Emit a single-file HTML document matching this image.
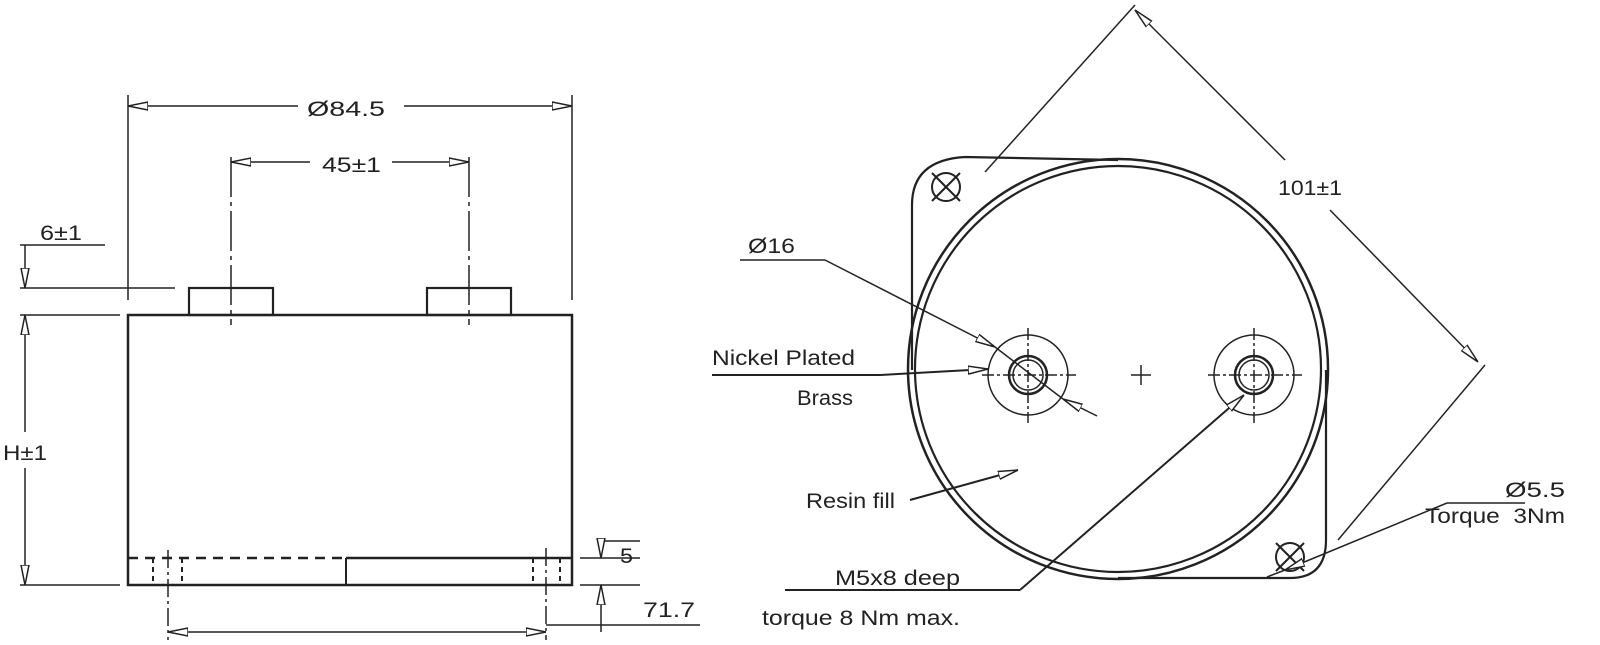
<!DOCTYPE html>
<html><head><style>
html,body{margin:0;padding:0;background:#fff;width:1600px;height:645px;overflow:hidden}
text{font-family:"Liberation Sans",sans-serif;font-size:21px;fill:#222}
</style></head><body>
<svg width="1600" height="645" viewBox="0 0 1600 645" xmlns="http://www.w3.org/2000/svg">
<defs>
<marker id="a" viewBox="0 0 20 10" refX="20" refY="5" markerWidth="20" markerHeight="10" markerUnits="userSpaceOnUse" orient="auto-start-reverse">
<path d="M0,1 L20,5 L0,9 Z" fill="#fff" stroke="#222" stroke-width="1.5"/></marker>
</defs>
<g stroke="#222" fill="none" stroke-width="1.5">
<rect x="128" y="315" width="444" height="270" stroke-width="2.5"/>
<line x1="128" y1="558" x2="346" y2="558" stroke-width="2.5" stroke-dasharray="10,7"/>
<line x1="346" y1="558" x2="572" y2="558" stroke-width="2.5"/>
<line x1="346" y1="558" x2="346" y2="585" stroke-width="2"/>
<g stroke-dasharray="5,4" stroke-width="2"><line x1="153" y1="558" x2="153" y2="585"/><line x1="182" y1="558" x2="182" y2="585"/><line x1="533" y1="558" x2="533" y2="585"/><line x1="560" y1="558" x2="560" y2="585"/></g>
<line x1="168" y1="550" x2="168" y2="640" stroke-dasharray="18,4,3,4"/>
<line x1="546" y1="548" x2="546" y2="640" stroke-dasharray="18,4,3,4"/>
<rect x="189" y="288" width="84" height="27" stroke-width="2.2"/>
<rect x="427" y="288" width="84" height="27" stroke-width="2.2"/>
<line x1="231" y1="157" x2="231" y2="325" stroke-dasharray="40,5,4,5"/>
<line x1="469" y1="157" x2="469" y2="325" stroke-dasharray="40,5,4,5"/>
<line x1="128" y1="95" x2="128" y2="300"/><line x1="572" y1="95" x2="572" y2="300"/>
<line x1="128" y1="106" x2="298" y2="106" marker-start="url(#a)"/>
<line x1="404" y1="106" x2="572" y2="106" marker-end="url(#a)"/>
<line x1="231" y1="162" x2="310" y2="162" marker-start="url(#a)"/>
<line x1="392" y1="162" x2="469" y2="162" marker-end="url(#a)"/>
<line x1="20" y1="245" x2="105" y2="245"/>
<line x1="20" y1="288" x2="175" y2="288"/><line x1="20" y1="315" x2="120" y2="315"/><line x1="20" y1="585" x2="120" y2="585"/>
<line x1="25" y1="245" x2="25" y2="288" marker-end="url(#a)"/>
<line x1="25" y1="315" x2="25" y2="432" marker-start="url(#a)"/>
<line x1="25" y1="468" x2="25" y2="585" marker-end="url(#a)"/>
<line x1="580" y1="558" x2="640" y2="558"/><line x1="580" y1="585" x2="640" y2="585"/>
<line x1="601" y1="541" x2="640" y2="541"/>
<line x1="601" y1="541" x2="601" y2="558" marker-end="url(#a)"/>
<line x1="601" y1="632" x2="601" y2="585" marker-end="url(#a)"/>
<line x1="168" y1="632" x2="546" y2="632" marker-start="url(#a)" marker-end="url(#a)"/>
<line x1="546" y1="625" x2="700" y2="625"/>
<path d="M965,157 L1118,160 M912,370 L912,205 Q912,160 965,157" stroke-width="2.2"/>
<path d="M1326,370 L1326,540 Q1326,578 1290,578 L1118,578" stroke-width="2.2"/>
<circle cx="1118" cy="369" r="210" stroke-width="2.5"/>
<circle cx="1118" cy="369" r="203" stroke-width="2.2"/>
<circle cx="946" cy="187" r="14" stroke-width="2"/><line x1="932" y1="173" x2="960" y2="201" stroke-width="2"/><line x1="960" y1="173" x2="932" y2="201" stroke-width="2"/>
<circle cx="1290" cy="557" r="14" stroke-width="2"/><line x1="1276" y1="543" x2="1304" y2="571" stroke-width="2"/><line x1="1304" y1="543" x2="1276" y2="571" stroke-width="2"/>
<g>
<circle cx="1028" cy="375" r="40"/><circle cx="1028" cy="375" r="19" stroke-width="2.5"/><circle cx="1028" cy="375" r="15"/>
<line x1="982" y1="375" x2="1076" y2="375" stroke-dasharray="12,3,3,3"/><line x1="1028" y1="328" x2="1028" y2="423" stroke-dasharray="12,3,3,3"/>
<circle cx="1254" cy="375" r="40"/><circle cx="1254" cy="375" r="19" stroke-width="2.5"/><circle cx="1254" cy="375" r="15"/>
<line x1="1208" y1="375" x2="1302" y2="375" stroke-dasharray="12,3,3,3"/><line x1="1254" y1="328" x2="1254" y2="423" stroke-dasharray="12,3,3,3"/>
</g>
<line x1="1131" y1="375" x2="1151" y2="375"/><line x1="1141" y1="365" x2="1141" y2="385"/>
<line x1="985" y1="172" x2="1135" y2="5"/>
<line x1="1338" y1="540" x2="1485" y2="365"/>
<line x1="1135" y1="10" x2="1285" y2="160" marker-start="url(#a)"/>
<line x1="1330" y1="210" x2="1478" y2="362" marker-end="url(#a)"/>
<line x1="740" y1="260" x2="825" y2="260"/>
<line x1="825" y1="260" x2="995" y2="347" marker-end="url(#a)"/>
<line x1="1097" y1="416" x2="1063" y2="399" marker-end="url(#a)"/>
<line x1="995" y1="347" x2="1063" y2="399"/>
<line x1="712" y1="375" x2="880" y2="375" stroke-width="2"/>
<line x1="880" y1="375" x2="988" y2="369" stroke-width="2" marker-end="url(#a)"/>
<line x1="910" y1="500" x2="1018" y2="470" stroke-width="2" marker-end="url(#a)"/>
<line x1="785" y1="590" x2="1020" y2="590" stroke-width="2"/>
<line x1="1020" y1="590" x2="1244" y2="395" stroke-width="2" marker-end="url(#a)"/>
<line x1="1447" y1="503" x2="1525" y2="503"/>
<line x1="1447" y1="503" x2="1285" y2="570" marker-end="url(#a)"/>
<line x1="1285" y1="570" x2="1267" y2="577"/>
</g>
<text x="307" y="116" textLength="78" lengthAdjust="spacingAndGlyphs">Ø84.5</text>
<text x="322" y="172" textLength="59" lengthAdjust="spacingAndGlyphs">45±1</text>
<text x="40" y="240" textLength="42" lengthAdjust="spacingAndGlyphs">6±1</text>
<text x="3" y="460" textLength="44" lengthAdjust="spacingAndGlyphs">H±1</text>
<text x="620" y="563" textLength="13" lengthAdjust="spacingAndGlyphs">5</text>
<text x="643" y="617" textLength="52" lengthAdjust="spacingAndGlyphs">71.7</text>
<text x="1278" y="195" textLength="64" lengthAdjust="spacingAndGlyphs">101±1</text>
<text x="748" y="253" textLength="47" lengthAdjust="spacingAndGlyphs">Ø16</text>
<text x="712" y="365" textLength="143" lengthAdjust="spacingAndGlyphs">Nickel Plated</text>
<text x="797" y="405" textLength="56" lengthAdjust="spacingAndGlyphs">Brass</text>
<text x="806" y="508" textLength="89" lengthAdjust="spacingAndGlyphs">Resin fill</text>
<text x="835" y="585" textLength="125" lengthAdjust="spacingAndGlyphs">M5x8 deep</text>
<text x="762" y="625" textLength="198" lengthAdjust="spacingAndGlyphs">torque 8 Nm max.</text>
<text x="1505" y="497" textLength="60" lengthAdjust="spacingAndGlyphs">Ø5.5</text>
<text x="1425" y="523" textLength="140" lengthAdjust="spacingAndGlyphs" xml:space="preserve">Torque  3Nm</text>
</svg>
</body></html>
